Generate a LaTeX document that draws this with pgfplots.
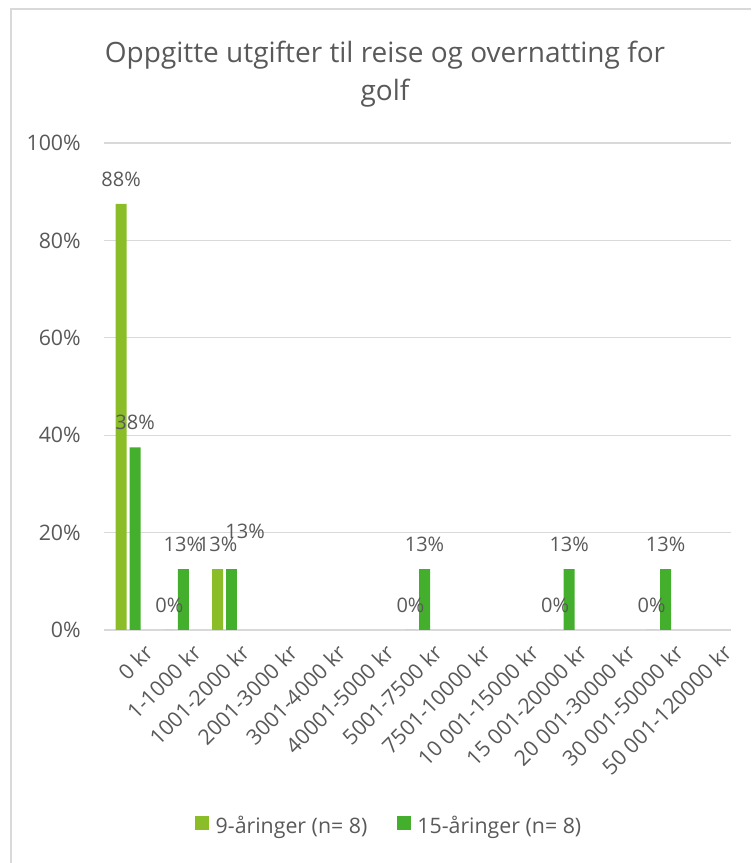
\documentclass[border=0pt]{standalone}
\usepackage{pgfplots}
\usepackage{pgfplotstable}
\pgfplotsset{compat=1.18}
\usepackage{fontspec}
\setmainfont{Open Sans}
\definecolor{txt}{HTML}{595959}
\definecolor{gridc}{HTML}{D9D9D9}
\definecolor{nine}{HTML}{8ABD28}
\definecolor{fifteen}{HTML}{43AF2D}

\pgfplotstableread{
x y lbl
0 87.5 88
1 0 0
2 12.5 13
6 0 0
9 0 0
11 0 0
}\nine

\pgfplotstableread{
x y lbl
0 37.5 38
1 12.5 13
6 12.5 13
9 12.5 13
11 12.5 13
}\fifteen

\pgfplotstableread{
x y lbl
2 12.5 13
}\fifteenb

\begin{document}
\begin{tikzpicture}
\useasboundingbox (0pt,0pt) rectangle (563.25pt,647.25pt);
% chart frame
\draw[gridc, line width=0.9pt] (8.25pt,0pt) -- (8.25pt,640.5pt) -- (563.25pt,640.5pt);
% title
\node[anchor=base, text=txt, font=\fontsize{21}{28.5}\selectfont, inner sep=0pt] at (288.75pt,600pt) {Oppgitte utgifter til reise og overnatting for};
\node[anchor=base, text=txt, font=\fontsize{21}{28.5}\selectfont, inner sep=0pt] at (288.75pt,571.5pt) {golf};
\begin{axis}[
  at={(78pt,174.75pt)}, anchor=south west,
  scale only axis, width=470.25pt, height=365.25pt,
  xmin=-0.5, xmax=12.5, ymin=0, ymax=100,
  clip=false,
  ybar, bar width=8.25pt,
  axis line style={draw=none},
  major tick length=0pt,
  ymajorgrids, grid style={gridc, line width=0.9pt},
  ytick={0,20,40,60,80,100},
  yticklabels={0\%,20\%,40\%,60\%,80\%,100\%},
  xtick={0,1,2,3,4,5,6,7,8,9,10,11,12},
  xticklabels={0 kr,1-1000 kr,1001-2000 kr,2001-3000 kr,3001-4000 kr,40001-5000 kr,5001-7500 kr,7501-10000 kr,10 001-15000 kr,15 001-20000 kr,20 001-30000 kr,30 001-50000 kr,50 001-120000 kr},
  tick label style={font=\fontsize{16}{19}\selectfont, text=txt},
  yticklabel style={anchor=east, inner sep=0pt, xshift=-17.25pt},
  xticklabel style={rotate=45, anchor=north east, inner sep=0pt, yshift=-14.5pt, xshift=1pt},
  point meta=explicit symbolic,
  nodes near coords={\pgfplotspointmeta\%},
  every node near coord/.append style={font=\fontsize{15}{18}\selectfont, text=txt, anchor=center, yshift=18.75pt},
  legend style={at={(0.4553,-0.4025)}, anchor=center, draw=none, fill=none, font=\fontsize{16}{19}\selectfont, text=txt, legend columns=2,
    /tikz/every odd column/.append style={column sep=3pt},
    /tikz/every even column/.append style={column sep=20pt}},
  legend cell align=left,
]
\addplot[fill=nine, draw=none, bar shift=-5.25pt, legend image code/.code={\fill[nine] (0pt,-3pt) rectangle (10.5pt,7.5pt);}] table[x=x, y=y, meta=lbl] {\nine};
\addlegendentry{9-åringer (n= 8)}
\addplot[fill=fifteen, draw=none, bar shift=5.25pt, legend image code/.code={\fill[fifteen] (0pt,-3pt) rectangle (10.5pt,7.5pt);}] table[x=x, y=y, meta=lbl] {\fifteen};
\addlegendentry{15-åringer (n= 8)}
\addplot[fill=fifteen, draw=none, bar shift=5.25pt, forget plot, every node near coord/.append style={xshift=10.1pt, yshift=9.75pt}] table[x=x, y=y, meta=lbl] {\fifteenb};
\end{axis}
\end{tikzpicture}
\end{document}
